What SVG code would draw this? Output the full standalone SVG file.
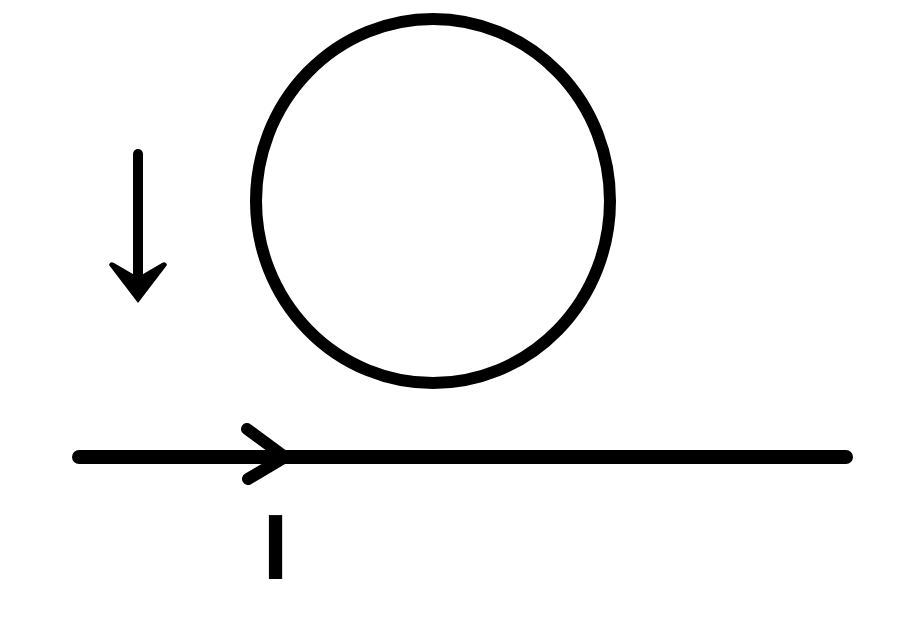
<svg xmlns="http://www.w3.org/2000/svg" width="900" height="617" viewBox="0 0 900 617">
<style>
.s{fill:none;stroke:#000;stroke-linecap:round;stroke-linejoin:round}
.lbl{font-family:"Liberation Sans",Arial,sans-serif;font-weight:bold;fill:#000}
</style>
<rect width="900" height="617" fill="#fff"/>
<g id="loop">
<ellipse class="s" cx="433" cy="201" rx="177" ry="182" stroke-width="12"/>
</g>
<g id="connectors">
<g id="force-arrow">
<line class="s" x1="138" y1="154" x2="138" y2="285" stroke-width="10"/>
<path d="M138,303 L109,265 Q110,261 114,263 L138,277 L162,263 Q166,261 167,265 Z" fill="#000"/>
</g>
<g id="wire">
<line class="s" x1="79" y1="457" x2="846" y2="457" stroke-width="14"/>
<polyline class="s" points="247,429 285,457 248,479" stroke-width="12"/>
</g>
</g>
<g id="label-I">
<text class="lbl" x="275.5" y="579" font-size="92" text-anchor="middle">I</text>
</g>
</svg>
